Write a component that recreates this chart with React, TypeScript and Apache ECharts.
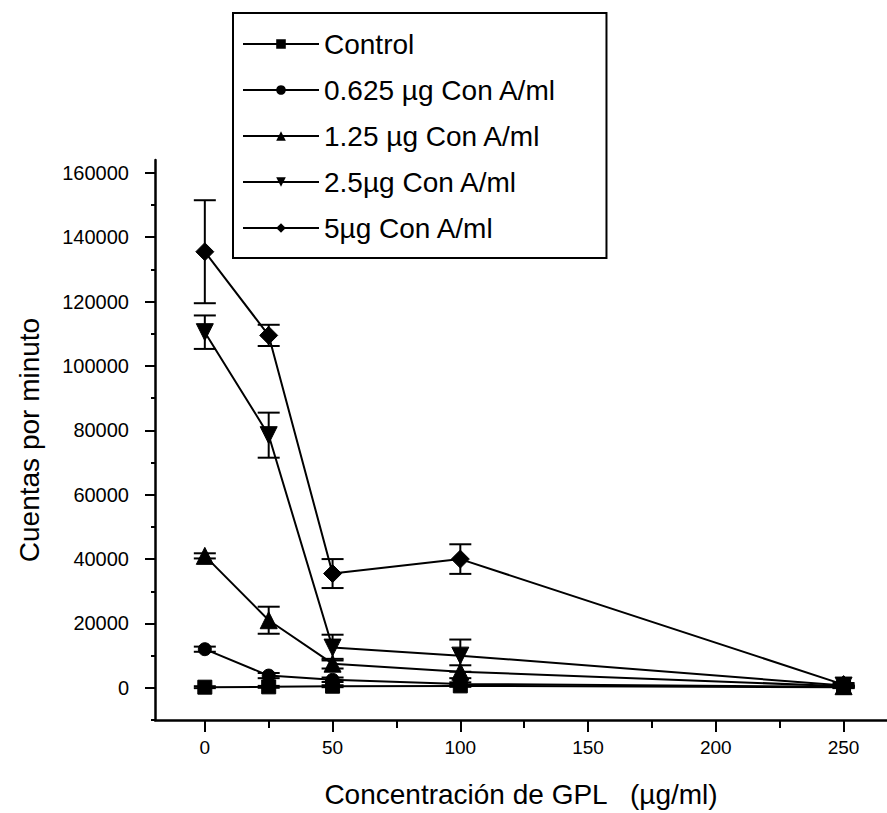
import React, { useEffect, useRef } from "react";
import * as echarts from "echarts";

// Concentration of GPL (µg/ml)
const xValues = [0, 25, 50, 100, 250];

const seriesNames = [
  "Control",
  "0.625 µg Con A/ml",
  "1.25 µg Con A/ml",
  "2.5µg Con A/ml",
  "5µg Con A/ml",
];

// Counts per minute (means)
const controlValues = [200, 300, 500, 600, 200];
const c0625Values = [12000, 3800, 2500, 1200, 300];
const c125Values = [41000, 21000, 7500, 5000, 500];
const c25Values = [110500, 78500, 12500, 10000, 700];
const c5Values = [135500, 109500, 35500, 40000, 1000];

// Error (± half-range)
const controlErr = [300, 300, 300, 300, 300];
const c0625Err = [800, 800, 700, 500, 300];
const c125Err = [800, 4200, 1500, 2000, 300];
const c25Err = [5200, 7000, 4000, 5000, 300];
const c5Err = [16000, 3300, 4500, 4600, 500];

const yTickValues = [0, 20000, 40000, 60000, 80000, 100000, 120000, 140000, 160000];
const yMinorTicks = [-10000, 10000, 30000, 50000, 70000, 90000, 110000, 130000, 150000];
const xTickValues = [0, 50, 100, 150, 200, 250];
const xMinorTicks = [25, 75, 125, 175, 225];

const downTriangle = "path://M0,0 L10,0 L5,9 Z";
const upTriangle = "path://M5,0 L10,9 L0,9 Z";

const FONT = "'Liberation Sans', Arial, Helvetica, sans-serif";

export default function App() {
  const ref = useRef<HTMLDivElement>(null);

  useEffect(() => {
    if (!ref.current) return;
    const chart = echarts.init(ref.current, null, { renderer: "svg" });

    const allValues = [controlValues, c0625Values, c125Values, c25Values, c5Values];
    const allErr = [controlErr, c0625Err, c125Err, c25Err, c5Err];
    const symbols = ["rect", "circle", upTriangle, downTriangle, "diamond"];
    const sizes = [14, 13, 17, 17, 18];

    const lineSeries = allValues.map((vals, i) => ({
      name: seriesNames[i],
      type: "line",
      xAxisIndex: 0,
      yAxisIndex: 0,
      data: vals.map((v, j) => [xValues[j], v]),
      symbol: symbols[i],
      symbolSize: sizes[i],
      lineStyle: { color: "#000", width: 2 },
      itemStyle: { color: "#000", borderColor: "#000" },
      z: 5,
    }));

    const errSeries = allValues.map((vals, i) => ({
      name: seriesNames[i] + " error",
      type: "custom",
      xAxisIndex: 0,
      yAxisIndex: 0,
      data: vals.map((v, j) => [xValues[j], v - allErr[i][j], v + allErr[i][j]]),
      z: 4,
      renderItem: (params: any, api: any) => {
        const x = api.value(0);
        const lo = api.coord([x, api.value(1)]);
        const hi = api.coord([x, api.value(2)]);
        const hw = 11;
        const st = { stroke: "#000", lineWidth: 2 };
        return {
          type: "group",
          children: [
            { type: "line", shape: { x1: hi[0], y1: hi[1], x2: lo[0], y2: lo[1] }, style: st },
            { type: "line", shape: { x1: hi[0] - hw, y1: hi[1], x2: hi[0] + hw, y2: hi[1] }, style: st },
            { type: "line", shape: { x1: lo[0] - hw, y1: lo[1], x2: lo[0] + hw, y2: lo[1] }, style: st },
          ],
        };
      },
    }));

    chart.setOption({
      animation: false,
      backgroundColor: "#fff",
      textStyle: { fontFamily: FONT, color: "#000" },
      grid: { left: 155, right: 0, top: 160, bottom: 86.5, containLabel: false },
      legend: {
        data: seriesNames,
        orient: "vertical",
        left: 233,
        top: 13,
        padding: [17, 50, 16, 9],
        borderColor: "#000",
        borderWidth: 2,
        itemWidth: 76,
        itemHeight: 12,
        itemGap: 18,
        textStyle: { fontSize: 28, lineHeight: 28, color: "#000", fontFamily: FONT },
        selectedMode: false,
      },
      xAxis: [
        {
          type: "value",
          min: -19.5,
          max: 267,
          name: "Concentración de GPL   (µg/ml)",
          nameLocation: "middle",
          nameGap: 60,
          nameTextStyle: { fontSize: 28, color: "#000", fontFamily: FONT },
          axisLine: { show: true, onZero: false, lineStyle: { color: "#000", width: 2.5 } },
          axisTick: { show: true, customValues: xTickValues, length: 12, lineStyle: { color: "#000", width: 2 } },
          axisLabel: {
            customValues: xTickValues,
            fontSize: 19,
            color: "#000",
            margin: 18,
            fontFamily: FONT,
            formatter: (v: number) => String(v),
          },
          splitLine: { show: false },
        },
        {
          type: "value",
          min: -19.5,
          max: 267,
          position: "bottom",
          axisLine: { show: false, onZero: false },
          axisTick: { show: true, customValues: xMinorTicks, length: 8, lineStyle: { color: "#000", width: 2 } },
          axisLabel: { show: false },
          splitLine: { show: false },
        },
      ],
      yAxis: [
        {
          type: "value",
          min: -10000,
          max: 164000,
          name: "Cuentas por minuto",
          nameLocation: "middle",
          nameGap: 112,
          nameRotate: 90,
          nameTextStyle: { fontSize: 28, color: "#000", fontFamily: FONT },
          axisLine: { show: true, onZero: false, lineStyle: { color: "#000", width: 2.5 } },
          axisTick: { show: true, customValues: yTickValues, length: 10, lineStyle: { color: "#000", width: 2 } },
          axisLabel: {
            customValues: yTickValues,
            fontSize: 20,
            color: "#000",
            margin: 26,
            fontFamily: FONT,
            formatter: (v: number) => String(v),
          },
          splitLine: { show: false },
        },
        {
          type: "value",
          min: -10000,
          max: 164000,
          position: "left",
          axisLine: { show: false, onZero: false },
          axisTick: { show: true, customValues: yMinorTicks, length: 4, lineStyle: { color: "#000", width: 2 } },
          axisLabel: { show: false },
          splitLine: { show: false },
        },
      ],
      series: [...errSeries, ...lineSeries],
    });

    return () => chart.dispose();
  }, []);

  return (
    <div
      ref={ref}
      style={{ position: "fixed", left: 0, top: 0, width: 887, height: 813, background: "#fff" }}
    />
  );
}
